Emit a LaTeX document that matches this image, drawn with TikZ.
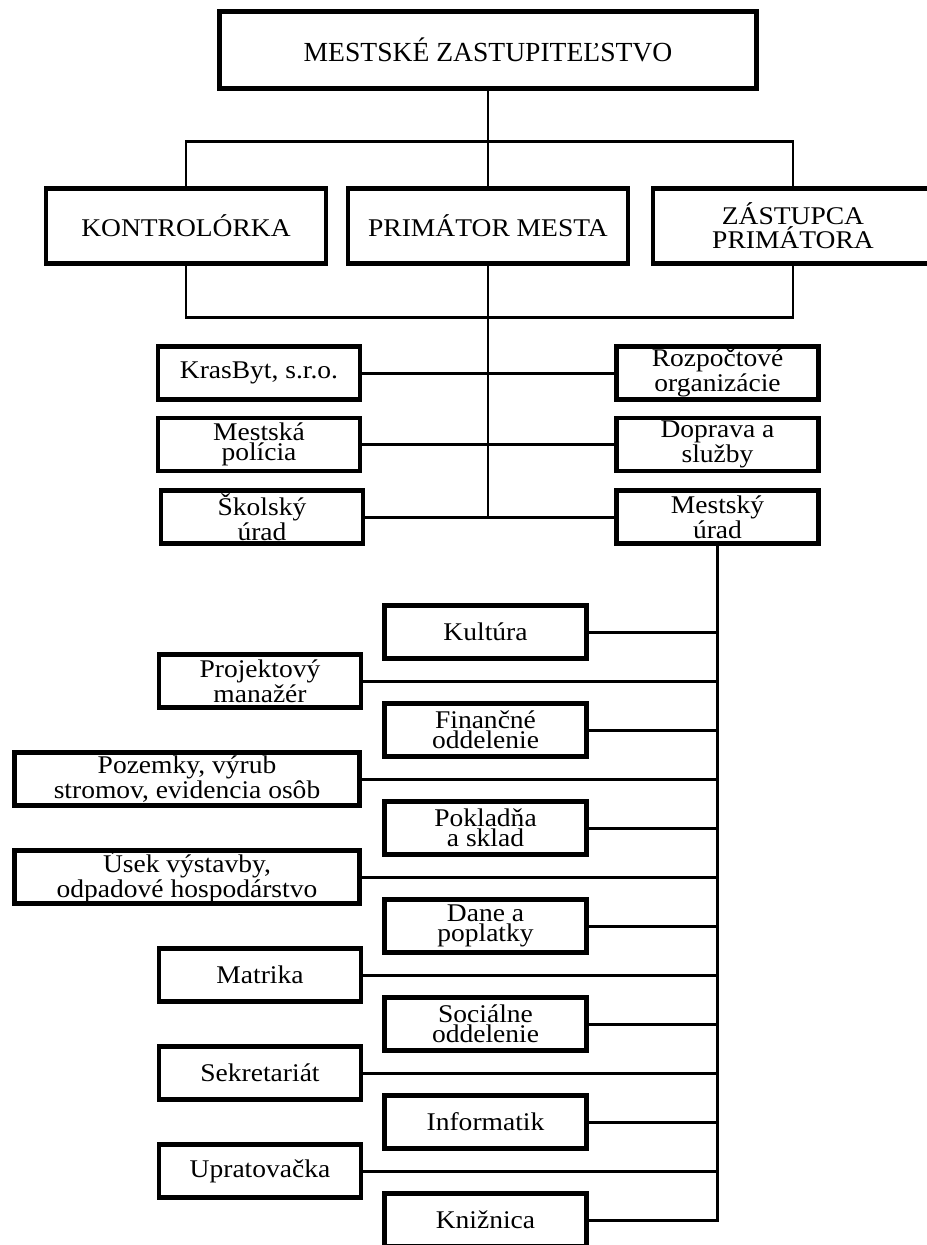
\documentclass[tikz,border=0pt]{standalone}
\usepackage{fontspec}
\setmainfont{Liberation Serif}
\newfontfamily\boxfont{Liberation Serif}[FakeStretch=1.08]
\usepackage{tikz}

\begin{document}
\begin{tikzpicture}[
    box/.style={draw, line width=2.8pt, align=center, inner sep=0pt,
      font={\boxfont\fontsize{14.5}{11.6}\selectfont}},
    topbox/.style={box, minimum width=10.74cm, minimum height=1.54cm,
      font={\fontsize{15.7}{18}\selectfont}},
    headbox/.style={box, minimum width=5.6cm, minimum height=1.5cm},
    unitbox/.style={box, minimum width=4.04cm, minimum height=1.06cm},
    widebox/.style={box, minimum width=6.9cm, minimum height=1.06cm},
    conn/.style={line width=1.7pt}]
  \useasboundingbox (0,0) rectangle (18.54,-24.9);
  % Zastupiteľstvo
  \node[topbox] (zast) at (9.76,-1.0) {MESTSKÉ ZASTUPITEĽSTVO};
  % Vedenie
  \node[headbox] (kontr) at (3.72,-4.52) {KONTROLÓRKA};
  \node[headbox] (prim) at (9.76,-4.52) {PRIMÁTOR MESTA};
  \node[headbox] (zastupca) at (15.86,-4.52) {ZÁSTUPCA\\PRIMÁTORA};
  \coordinate (hore) at (9.76,-2.82);
  \coordinate (dole) at (9.76,-6.34);
  \draw[conn] (zast.south) -- (hore);
  \draw[conn] (kontr.north) |- (hore) -| (zastupca.north);
  \draw[conn] (hore) -- (prim.north);
  \draw[conn] (kontr.south) |- (dole) -| (zastupca.south);
  \draw[conn] (prim.south) -- (dole);
  % Organizácie mesta
  \node[unitbox] (krasbyt) at (5.18,-7.46) {KrasByt, s.r.o.};
  \node[unitbox] (rozp) at (14.35,-7.46) {Rozpočtové\\organizácie};
  \node[unitbox] (policia) at (5.18,-8.89) {Mestská\\polícia};
  \node[unitbox] (doprava) at (14.35,-8.89) {Doprava a\\služby};
  \node[unitbox] (skolsky) at (5.24,-10.34) {Školský\\úrad};
  \node[unitbox] (mestsky) at (14.35,-10.34) {Mestský\\úrad};
  \draw[conn] (dole) -- (dole |- skolsky.east);
  \draw[conn] (krasbyt.east) -- (rozp.west);
  \draw[conn] (policia.east) -- (doprava.west);
  \draw[conn] (skolsky.east) -- (mestsky.west);
  % Mestský úrad - oddelenia
  \node[unitbox] (kultura) at (9.71,-12.64) {Kultúra};
  \node[unitbox] (projekt) at (5.2,-13.62) {Projektový\\manažér};
  \node[unitbox] (financne) at (9.71,-14.60) {Finančné\\oddelenie};
  \node[widebox] (pozemky) at (3.74,-15.58) {Pozemky, výrub\\stromov, evidencia osôb};
  \node[unitbox] (pokladna) at (9.71,-16.56) {Pokladňa\\a sklad};
  \node[widebox] (usek) at (3.74,-17.54) {Úsek výstavby,\\odpadové hospodárstvo};
  \node[unitbox] (dane) at (9.71,-18.52) {Dane a\\poplatky};
  \node[unitbox] (matrika) at (5.2,-19.50) {Matrika};
  \node[unitbox] (socialne) at (9.71,-20.48) {Sociálne\\oddelenie};
  \node[unitbox] (sekretariat) at (5.2,-21.46) {Sekretariát};
  \node[unitbox] (informatik) at (9.71,-22.44) {Informatik};
  \node[unitbox] (upratovacka) at (5.2,-23.42) {Upratovačka};
  \node[unitbox] (kniznica) at (9.71,-24.40) {Knižnica};
  \draw[conn] (mestsky.south) |- (kniznica.east);
  \draw[conn] (kultura.east) -- (kultura.east -| mestsky.south);
  \draw[conn] (projekt.east) -- (projekt.east -| mestsky.south);
  \draw[conn] (financne.east) -- (financne.east -| mestsky.south);
  \draw[conn] (pozemky.east) -- (pozemky.east -| mestsky.south);
  \draw[conn] (pokladna.east) -- (pokladna.east -| mestsky.south);
  \draw[conn] (usek.east) -- (usek.east -| mestsky.south);
  \draw[conn] (dane.east) -- (dane.east -| mestsky.south);
  \draw[conn] (matrika.east) -- (matrika.east -| mestsky.south);
  \draw[conn] (socialne.east) -- (socialne.east -| mestsky.south);
  \draw[conn] (sekretariat.east) -- (sekretariat.east -| mestsky.south);
  \draw[conn] (informatik.east) -- (informatik.east -| mestsky.south);
  \draw[conn] (upratovacka.east) -- (upratovacka.east -| mestsky.south);
\end{tikzpicture}
\end{document}
